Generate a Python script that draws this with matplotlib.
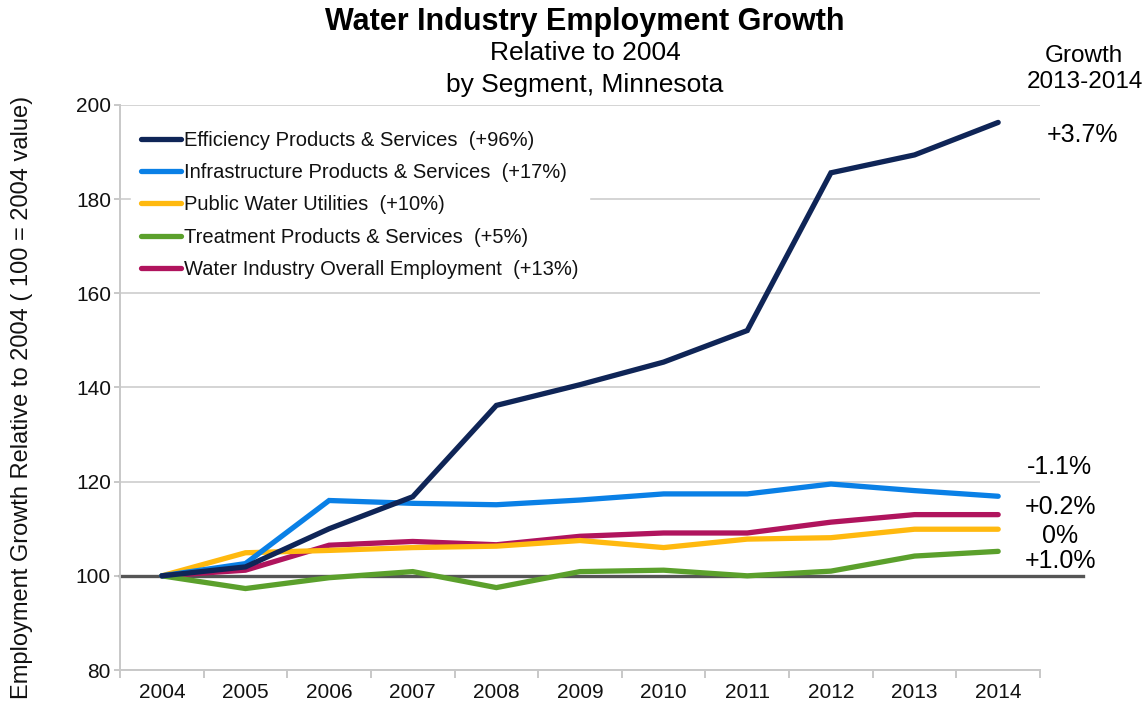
import matplotlib
matplotlib.use("Agg")
import matplotlib.pyplot as plt
from matplotlib.ticker import FixedLocator, NullFormatter

plt.rcParams['font.family'] = ['Liberation Sans', 'DejaVu Sans']

years = ['2004', '2005', '2006', '2007', '2008', '2009', '2010', '2011', '2012', '2013', '2014']
efficiency = [100, 101.9, 110.0, 116.8, 136.2, 140.6, 145.4, 152.1, 185.6, 189.4, 196.3]
infrastructure = [100, 102.6, 116.0, 115.4, 115.1, 116.1, 117.4, 117.4, 119.5, 118.1, 116.9]
public_util = [100, 104.9, 105.4, 106.0, 106.3, 107.5, 106.0, 107.8, 108.1, 109.9, 109.9]
treatment = [100, 97.3, 99.6, 100.9, 97.5, 100.9, 101.2, 100.0, 101.0, 104.2, 105.2]
overall = [100, 101.2, 106.5, 107.3, 106.6, 108.4, 109.1, 109.1, 111.4, 113.0, 113.0]

labels = ['Efficiency Products & Services  (+96%)',
          'Infrastructure Products & Services  (+17%)',
          'Public Water Utilities  (+10%)',
          'Treatment Products & Services  (+5%)',
          'Water Industry Overall Employment  (+13%)']
colors = ['#0f2557', '#0a80e6', '#ffb90f', '#5ba02c', '#b0145d']
growth_labels = ['+3.7%', '-1.1%', '+0.2%', '0%', '+1.0%']

W, H = 1148, 707
fig = plt.figure(figsize=(W / 100, H / 100), dpi=100)
ax = fig.add_axes([120 / W, 1 - 670 / H, 920 / W, 565 / H])

x = list(range(len(years)))
series = [efficiency, infrastructure, public_util, treatment, overall]
order = [4, 2, 3, 1, 0]
lines = {}
for i in order:
    ln, = ax.plot(x, series[i], color=colors[i], lw=3.8, solid_capstyle='round',
                  solid_joinstyle='miter', zorder=3 + (i == 0) * 1 + (i == 1) * 0.5)
    lines[i] = ln

# baseline at 100
ax.plot([0, 1.047], [100, 100], transform=ax.get_yaxis_transform(), color='#555555',
        lw=2.4, clip_on=False, zorder=2.5)

ax.set_xlim(-0.5, len(years) - 0.5)
ax.set_ylim(80, 200)
ax.set_yticks([80, 100, 120, 140, 160, 180, 200])
ax.yaxis.grid(True, color='#d4d4d4', lw=1.4)
ax.set_axisbelow(True)
ax.set_xticks(x)
ax.set_xticklabels(years, fontsize=15, color='#111111')
ax.tick_params(axis='x', which='major', length=0, pad=9)
ax.xaxis.set_minor_locator(FixedLocator([i - 0.5 for i in range(len(years) + 1)]))
ax.xaxis.set_minor_formatter(NullFormatter())
ax.tick_params(axis='x', which='minor', length=6, color='#bfbfbf', width=1.2)
ax.tick_params(axis='y', length=4, color='#bfbfbf', width=1.2, labelsize=15,
               labelcolor='#111111', pad=2.5)
for s in ['top', 'right']:
    ax.spines[s].set_visible(False)
for s in ['left', 'bottom']:
    ax.spines[s].set_color('#c8c8c8')
    ax.spines[s].set_linewidth(1.4)

ax.set_ylabel('Employment Growth Relative to 2004 ( 100 = 2004 value)', fontsize=17,
              color='#111111')
ax.yaxis.set_label_coords(-0.0946, 0.483)

leg = ax.legend([lines[i] for i in range(5)], labels, loc='upper left',
                bbox_to_anchor=(0.012, 0.972), frameon=True, fontsize=14.5,
                handlelength=2.0, handletextpad=0.15, labelspacing=0.66,
                borderpad=0.5, borderaxespad=0)
leg.get_frame().set_facecolor('white')
leg.get_frame().set_edgecolor('white')
leg.get_frame().set_alpha(1)
leg.set_zorder(5)
for t in leg.get_texts():
    t.set_color('#111111')

# Titles
fig.text(585 / W, 1 - 22 / H, 'Water Industry Employment Growth', ha='center', va='center',
         fontsize=22, fontweight='bold', color='#000000')
fig.text(585 / W, 1 - 53 / H, 'Relative to 2004', ha='center', va='center',
         fontsize=19, color='#000000')
fig.text(585 / W, 1 - 85 / H, 'by Segment, Minnesota', ha='center', va='center',
         fontsize=19, color='#000000')

fig.text(1084 / W, 1 - 56 / H, 'Growth', ha='center', va='center', fontsize=17.5, color='#000000')
fig.text(1085 / W, 1 - 82 / H, '2013-2014', ha='center', va='center', fontsize=17.5, color='#000000')

growth_pos = [(1082, 135), (1059, 467), (1060, 507), (1060, 536), (1060, 561)]
for lab, (px, py) in zip(growth_labels, growth_pos):
    fig.text(px / W, 1 - py / H, lab, ha='center', va='center', fontsize=18, color='#000000')

fig.savefig('out.png', dpi=100, facecolor='white')
